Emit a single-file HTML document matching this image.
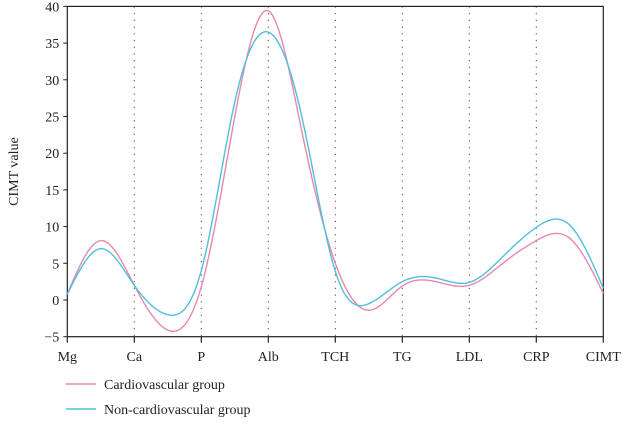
<!DOCTYPE html>
<html><head><meta charset="utf-8"><style>
body{margin:0;background:#fff;}
svg text{font-family:"Liberation Serif",serif;fill:#222;}
</style></head><body>
<svg id="chart" width="624" height="424"></svg>
<script>
const categories=["Mg","Ca","P","Alb","TCH","TG","LDL","CRP","CIMT"];
// values sampled at every half-category step (category, midpoint, category, ...)
const cardio=[0.8,8.1,2,-4.1,1.8,25,39.4,23,5,-1.4,1.9,2.5,2.0,5,8.1,8.4,0.9];
const nonCardio=[0.8,7.0,2,-2.0,4,27,36.5,25,3.9,-0.5,2.5,3.0,2.4,5.9,9.9,10.2,1.6];
const yTicks=[-5,0,5,10,15,20,25,30,35,40];
const NS="http://www.w3.org/2000/svg";
const svg=document.getElementById('chart');
const x0=67.3,dx=67,yZero=300,ppu=7.34;
const X=i=>x0+i*dx, Y=v=>yZero-v*ppu;
function mk(t,a,p){const e=document.createElementNS(NS,t);for(const k in a)e.setAttribute(k,a[k]);(p||svg).appendChild(e);return e;}
const ax=mk('g',{});
categories.forEach((c,i)=>{
 if(i>0&&i<8){const g=mk('line',{x1:X(i),y1:Y(40),x2:X(i),y2:Y(-5),stroke:'#444','stroke-dasharray':'1.2 5.5'},ax);
 }
 mk('line',{x1:X(i),y1:Y(-5),x2:X(i),y2:Y(-5)+6,stroke:'#222','stroke-width':1.2},ax);
 const t=mk('text',{x:X(i),y:361,'text-anchor':'middle','font-size':14},ax);t.textContent=c;
 
});
const fr=mk('rect',{x:x0,y:Y(40),width:X(8)-x0,height:Y(-5)-Y(40),fill:'none',stroke:'#222','stroke-width':1.2},ax);

yTicks.forEach(v=>{
 mk('line',{x1:x0-4,y1:Y(v),x2:x0,y2:Y(v),stroke:'#222'},ax);
 const t=mk('text',{x:x0-8,y:Y(v)+5,'text-anchor':'end','font-size':14},ax);t.textContent=v<0?'\u2212'+(-v):v;
 
});
const yt=mk('text',{x:0,y:0,transform:`translate(18,${Y(17.5)}) rotate(-90)`,'text-anchor':'middle','font-size':14});
yt.textContent='CIMT value';
function spline(ys){
 const n=ys.length,m=new Array(n).fill(0);
 const a=[],b=[],c=[],d=[];
 for(let i=1;i<n-1;i++){a.push(1);b.push(4);c.push(1);d.push(6*(ys[i+1]-2*ys[i]+ys[i-1]));}
 const k=d.length;
 for(let i=1;i<k;i++){const w=a[i]/b[i-1];b[i]-=w*c[i-1];d[i]-=w*d[i-1];}
 const s=new Array(k);s[k-1]=d[k-1]/b[k-1];
 for(let i=k-2;i>=0;i--)s[i]=(d[i]-c[i]*s[i+1])/b[i];
 for(let i=0;i<k;i++)m[i+1]=s[i];
 let p='';const step=(categories.length-1)/(n-1);
 for(let i=0;i<n-1;i++)for(let j=0;j<=16;j++){
  const t=j/16;
  const v=(1-t)*ys[i]+t*ys[i+1]+((1-t)**3-(1-t))*m[i]/6+(t**3-t)*m[i+1]/6;
  p+=(p?'L':'M')+X((i+t)*step).toFixed(2)+','+Y(v).toFixed(2);
 }
 return p;
}
const l1=mk('path',{d:spline(cardio),fill:'none',stroke:'#e888ae','stroke-width':1.4});

const l2=mk('path',{d:spline(nonCardio),fill:'none',stroke:'#4fc0dc','stroke-width':1.4});

[["Cardiovascular group","#e888ae",389],["Non-cardiovascular group","#4fc0dc",414]].forEach(([n,col,y])=>{
 const g=mk('g',{});
 mk('line',{x1:66,y1:y-5,x2:96,y2:y-5,stroke:col,'stroke-width':1.4},g);
 const t=mk('text',{x:104,y:y,'font-size':14},g);t.textContent=n;
});
</script>
</body></html>
